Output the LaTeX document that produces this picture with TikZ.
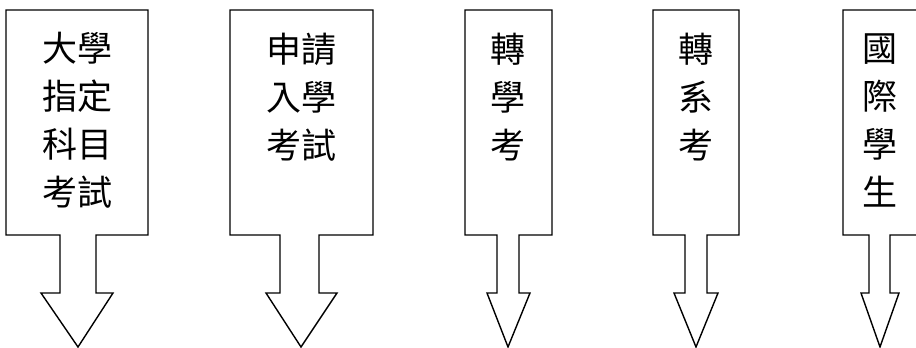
\documentclass[tikz,border=0pt]{standalone}
\usepackage{fontspec}
\newfontfamily\cjk{Noto Sans CJK TC}

\begin{document}
\begin{tikzpicture}[x=1pt,y=-1pt,
  outline/.style={draw, line width=1.4pt, line join=miter},
  boxtext/.style={font=\cjk\fontsize{35}{48}\selectfont, align=center, inner sep=0pt}]

  \useasboundingbox (0,0) rectangle (916,348);

  % Admission exam
  \draw[outline] (6,10) -- (148,10) -- (148,235) -- (96,235) -- (96,293) -- (113,293)
    -- (78,347) -- (41,293) -- (60,293) -- (60,235) -- (6,235) -- cycle;
  \node[boxtext] (zhiding) at (77,120) {大學\\指定\\科目\\考試};

  % Application
  \draw[outline] (230,10) -- (373,10) -- (373,235) -- (319,235) -- (319,293) -- (337,293)
    -- (301,347) -- (266,293) -- (280,293) -- (280,235) -- (230,235) -- cycle;
  \node[boxtext] (shenqing) at (301,97) {申請\\入學\\考試};

  % Transfer
  \draw[outline] (465,10) -- (552,10) -- (552,235) -- (519,235) -- (519,293) -- (530,293)
    -- (508,347) -- (487,293) -- (497,293) -- (497,235) -- (465,235) -- cycle;
  \node[boxtext] (zhuanxue) at (508,97) {轉\\學\\考};

  % Change of department
  \draw[outline] (653,10) -- (739,10) -- (739,235) -- (707,235) -- (707,293) -- (718,293)
    -- (696,347) -- (674,293) -- (685,293) -- (685,235) -- (653,235) -- cycle;
  \node[boxtext] (zhuanxi) at (696,97) {轉\\系\\考};

  % International students
  \draw[outline] (843,10) -- (918,10) -- (918,235) -- (890,235) -- (890,293) -- (899,293)
    -- (880,347) -- (861,293) -- (869,293) -- (869,235) -- (843,235) -- cycle;
  \node[boxtext] (guoji) at (880,120) {國\\際\\學\\生};

\end{tikzpicture}
\end{document}
